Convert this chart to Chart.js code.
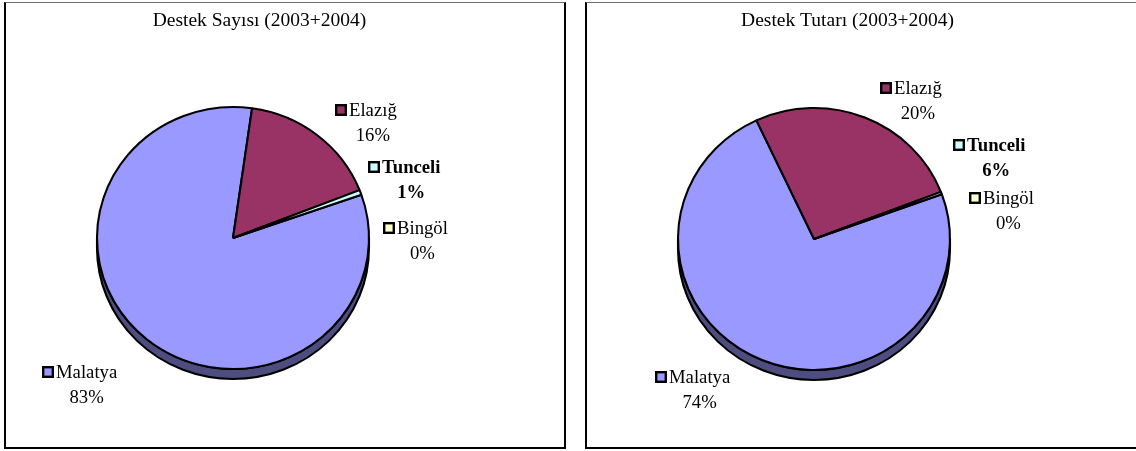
<!DOCTYPE html>
<html><head><meta charset="utf-8">
<script src="https://cdn.jsdelivr.net/npm/chart.js@4.4.1/dist/chart.umd.min.js"></script>
<style>
html,body{margin:0;padding:0;background:#fff;width:1136px;height:451px;overflow:hidden;position:relative}
.panel{position:absolute;top:2px;height:447px;box-sizing:border-box;border:2px solid #000;border-top:1px solid #6e6e6e}
#p1{left:4px;width:562px}
#p2{left:585px;width:560px}
canvas{position:absolute;left:0;top:0}
</style></head><body>
<div class="panel" id="p1"></div><div class="panel" id="p2"></div>
<canvas id="c1" width="1136" height="451"></canvas>
<canvas id="c2" width="1136" height="451"></canvas>
<script>
// ---- data ----
const categories = ['Malatya', 'Elazığ', 'Tunceli', 'Bingöl'];
// slice shares as drawn in the picture (percent of the pie)
const sayiShares  = [82.6, 16.8, 0.6, 0];
const tutarShares = [73.6, 26.1, 0.3, 0];
// percentage labels as printed on the picture
const sayiLabels  = ['83%', '16%', '1%', '0%'];
const tutarLabels = ['74%', '20%', '6%', '0%'];
const sayiTitle  = 'Destek Sayısı (2003+2004)';
const tutarTitle = 'Destek Tutarı (2003+2004)';
const boldCategory = 'Tunceli';

// ---- styles / layout ----
const colors     = ['#9999FF', '#993366', '#CCFFFF', '#FFFFCC'];
const sideColors = ['#4D4D80', '#4D1A33', '#668080', '#808066'];
const FONT = '"Liberation Serif", "Times New Roman", serif';
const SQUASH = 0.963, DEPTH = 10;
const EDGE = 2.1;

const pie3d = {
  id: 'pie3d',
  beforeDatasetsDraw(chart) {
    const ctx = chart.ctx;
    const arcs = chart.getDatasetMeta(0).data;
    const a0 = arcs[0];
    const cx = a0.x, cy = a0.y, r = a0.outerRadius;
    ctx.save();
    ctx.translate(cx, cy); ctx.scale(1, SQUASH); ctx.translate(-cx, -cy);
    const d = DEPTH / SQUASH;
    arcs.forEach((a, i) => {
      const s = a.startAngle, e = a.endAngle;
      if (e - s <= 0) return;
      for (let k = -2; k <= 3; k++) {
        const lo = Math.max(s, 2 * Math.PI * k), hi = Math.min(e, Math.PI + 2 * Math.PI * k);
        if (hi > lo) {
          ctx.beginPath();
          ctx.arc(cx, cy, r, lo, hi);
          ctx.arc(cx, cy + d, r, hi, lo, true);
          ctx.closePath();
          ctx.fillStyle = sideColors[i];
          ctx.fill();
          ctx.lineWidth = EDGE; ctx.strokeStyle = '#000'; ctx.lineJoin = 'round';
          ctx.stroke();
        }
      }
    });
  },
  afterDatasetsDraw(chart) { chart.ctx.restore(); }
};

const labelsPlugin = {
  id: 'labelsPlugin',
  afterDraw(chart, args, opts) {
    const ctx = chart.ctx;
    const a0 = chart.getDatasetMeta(0).data[0];
    const cx = a0.x, cy = a0.y;
    ctx.save();
    ctx.fillStyle = '#000';
    ctx.font = '19.5px ' + FONT;
    ctx.textAlign = 'center'; ctx.textBaseline = 'middle';
    ctx.fillText(opts.title, opts.titlePos[0], opts.titlePos[1]);
    const cats = chart.data.labels;
    cats.forEach((cat, i) => {
      const ax = cx + opts.anchors[i][0], ay = cy + opts.anchors[i][1];
      ctx.fillStyle = colors[i];
      ctx.fillRect(ax + 1, ay - 5, 10, 10);
      ctx.lineWidth = 2.4; ctx.strokeStyle = '#000';
      ctx.strokeRect(ax + 1.2, ay - 4.8, 9.6, 9.6);
      ctx.fillStyle = '#000';
      ctx.font = (cat === boldCategory ? 'bold ' : '') + '18.7px ' + FONT;
      ctx.textAlign = 'left';
      ctx.fillText(cat, ax + 14, ay + 1);
      const w = ctx.measureText(cat).width;
      ctx.textAlign = 'center';
      ctx.fillText(opts.pcts[i], ax + 14 + w / 2, ay + 26);
    });
    ctx.restore();
  }
};

function makeChart(id, shares, pcts, title, rotation, padding, titlePos, anchors) {
  return new Chart(document.getElementById(id), {
    type: 'pie',
    data: {
      labels: categories,
      datasets: [{
        data: shares,
        backgroundColor: colors,
        borderColor: '#000',
        borderWidth: EDGE
      }]
    },
    options: {
      responsive: false,
      animation: false,
      events: [],
      rotation: rotation,
      radius: 136,
      layout: { padding: padding },
      plugins: {
        legend: { display: false },
        tooltip: { enabled: false },
        title: { display: false },
        labelsPlugin: { title: title, pcts: pcts, titlePos: titlePos, anchors: anchors }
      }
    },
    plugins: [pie3d, labelsPlugin]
  });
}

makeChart('c1', sayiShares, sayiLabels, sayiTitle, 70.7,
  { left: 83, right: 753, top: 88, bottom: 63 }, [259.5, 21],
  [[-191, 134], [102, -128], [135, -71], [150, -10]]);
makeChart('c2', tutarShares, tutarLabels, tutarTitle, 70,
  { left: 664, right: 172, top: 89, bottom: 62 }, [847.5, 21],
  [[-159, 138], [66, -151], [139, -94], [155, -41]]);
</script>
</body></html>
